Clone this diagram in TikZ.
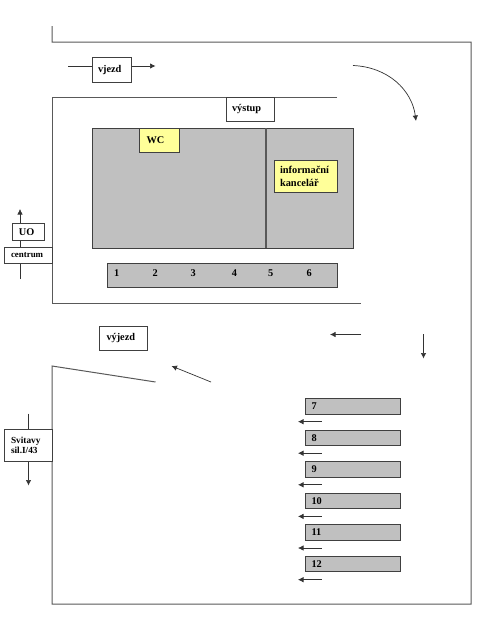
\documentclass[tikz,border=0pt]{standalone}
\usepackage{fontspec}
\setmainfont{Liberation Serif}
\usetikzlibrary{arrows.meta}
\definecolor{panel}{HTML}{C0C0C0}
\definecolor{note}{HTML}{FFFF99}
\definecolor{ink}{HTML}{404040}
\newcommand{\bx}[8][white]{% fill, name, x1, y1, x2, y2, padding, text
  \pgfmathsetmacro{\bxw}{#5-#3}\pgfmathsetmacro{\bxh}{#6-#4}
  \node[boxed,fill=#1,anchor=north west,minimum width=\bxw pt,minimum height=\bxh pt,text width=\bxw pt] (#2) at (#3,#4) {\leftskip=#7pt #8\par};}
\newcommand{\lowered}{\vspace*{2pt}}
\tikzset{
  x=1pt,y=-1pt,
  boxed/.style={draw=ink,line width=0.8pt,inner sep=0pt,outer sep=0pt,align=left,font=\bfseries\fontsize{10.3}{12}\selectfont},
  wire/.style={draw=black!65,line width=1pt},
  divider/.style={draw=black!65,line width=1.3pt},
  thin wire/.style={draw=black!80,line width=0.7pt},
  arrowline/.style={thin wire,-{Latex[length=5.5pt,width=5.5pt]}},
  num/.style={inner sep=0pt,font=\bfseries\fontsize{10.3}{12}\selectfont},
  slab/.style={draw=ink,line width=0.9pt,fill=panel,anchor=north west,inner sep=0pt,outer sep=0pt}
}
\begin{document}
\begin{tikzpicture}
\useasboundingbox (0,0) rectangle (480,640);
\fill[white] (0,0) rectangle (480,640);
% walls
\draw[wire,line join=miter] (52,26) -- (52,42) -- (471,42) -- (471,604) -- (52,604) -- (52,366) -- (155.5,382);
\draw[wire] (337,97) -- (52,97) -- (52,303) -- (361,303);
% building
\node[slab,minimum width=261pt,minimum height=120pt] (hall) at (92.5,128) {};
\coordinate (divt) at (266,128); \coordinate (divb) at (266,248);
\draw[divider] (divt) -- (divb);
\bx[note]{wc}{139.5}{128.5}{179.5}{152.5}{7}{WC}
\bx[note]{info}{274}{160.5}{337.5}{192.5}{6}{\fontsize{10.4}{12.6}\selectfont informační\\kancelář}
\bx{vystup}{226}{97}{274}{121}{6}{výstup}
% top arrows
\coordinate (a1) at (68,66); \coordinate (a2) at (155.5,66);
\bx{vjezd}{92}{57.5}{131.5}{82}{6}{vjezd}
\draw[thin wire] (a1) -- (vjezd.west|-a1);
\draw[arrowline] (vjezd.east|-a2) -- (a2);
\coordinate (c1) at (353,65.5); \coordinate (c2) at (416,121);
\draw[arrowline] (c1) .. controls (388,67) and (412,90) .. (c2);
% left: centrum
\coordinate (u1) at (20,279); \coordinate (u2) at (20,209);
\draw[arrowline] (u1) -- (u2);
\bx{uo}{12.5}{223.5}{44}{240.5}{6.5}{UO}
\bx{centrum}{4.5}{247.5}{52}{263}{6.5}{\fontsize{8.9}{10}\selectfont centrum}
% bar 1-6
\node[slab,minimum width=229.5pt,minimum height=24pt] (bar) at (107.5,263) {};
\node[num] (n1) at (116.7,273) {1};
\node[num] (n2) at (155.3,273) {2};
\node[num] (n3) at (193.3,273) {3};
\node[num] (n4) at (234.5,273) {4};
\node[num] (n5) at (270.7,273) {5};
\node[num] (n6) at (309.3,273) {6};
% middle
\bx{vyjezd}{99.5}{326.5}{147.5}{350.5}{7}{výjezd}
\coordinate (d1) at (361,334.5); \coordinate (d2) at (330,334.5);
\draw[arrowline] (d1) -- (d2);
\coordinate (e1) at (423.5,334); \coordinate (e2) at (423.5,358.5);
\draw[arrowline] (e1) -- (e2);
\coordinate (f1) at (211,382); \coordinate (f2) at (171.5,366);
\draw[arrowline] (f1) -- (f2);
% Svitavy
\coordinate (s1) at (28.5,413.5); \coordinate (s2) at (28.5,485.5);
\draw[arrowline] (s1) -- (s2);
\bx{svitavy}{4.5}{429.5}{52}{461.5}{6.5}{\fontsize{9.3}{10.4}\selectfont Svitavy\\sil.I/43}
% parking 7-12
\bx[panel]{p7}{305.5}{398}{400.5}{414}{6}{\lowered 7}
\bx[panel]{p8}{305.5}{430}{400.5}{445.5}{6}{\lowered 8}
\bx[panel]{p9}{305.5}{461.5}{400.5}{477}{6}{\lowered 9}
\bx[panel]{p10}{305.5}{493}{400.5}{508.5}{6}{\lowered 10}
\bx[panel]{p11}{305.5}{524.5}{400.5}{540}{6}{\lowered 11}
\bx[panel]{p12}{305.5}{556}{400.5}{571.5}{6}{\lowered 12}
\foreach \i/\yy in {7/421.7,8/453.2,9/484.8,10/516.4,11/548,12/579.7}{
  \coordinate (q\i r) at (321.5,\yy);
  \coordinate (q\i l) at (298,\yy);
  \draw[arrowline] (q\i r) -- (q\i l);
}
\end{tikzpicture}
\end{document}
